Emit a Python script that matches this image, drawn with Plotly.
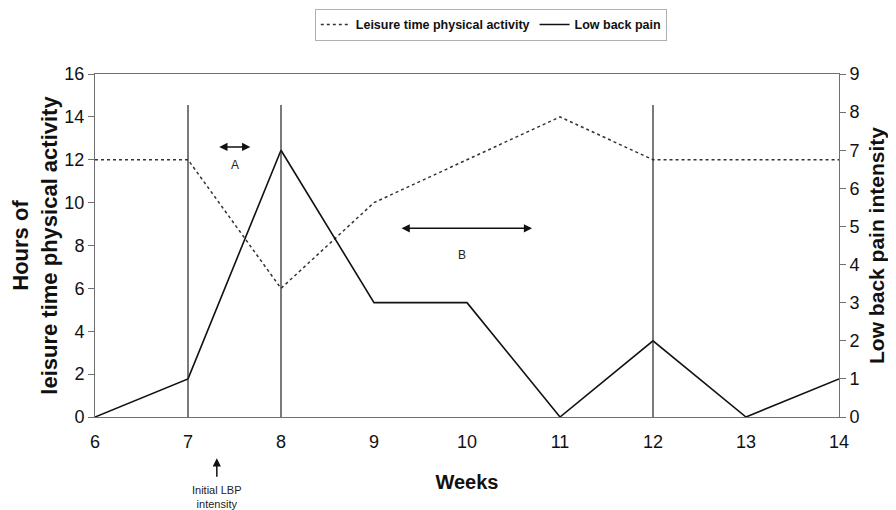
import plotly.graph_objects as go

weeks = [6, 7, 8, 9, 10, 11, 12, 13, 14]
leisure_hours = [12, 12, 6, 10, 12, 14, 12, 12, 12]
lbp_intensity = [0, 1, 7, 3, 3, 0, 2, 0, 1]
event_weeks = [7, 8, 12]
left_ticks = [0, 2, 4, 6, 8, 10, 12, 14, 16]
right_ticks = [0, 1, 2, 3, 4, 5, 6, 7, 8, 9]

FONT = "Arial, Liberation Sans, sans-serif"
AX = "#707070"

fig = go.Figure()
fig.add_trace(go.Scatter(
    x=weeks, y=leisure_hours, mode="lines", name="<b>Leisure time physical activity</b>",
    line=dict(color="#333333", width=1.5, dash="dot"), yaxis="y"))
fig.add_trace(go.Scatter(
    x=weeks, y=lbp_intensity, mode="lines", name="<b>Low back pain</b>",
    line=dict(color="#111111", width=1.6), yaxis="y2"))

for w in event_weeks:
    fig.add_shape(type="line", xref="x", yref="y", x0=w, x1=w, y0=0, y1=14.55,
                  line=dict(color="#222222", width=1.2))

# A double arrow
fig.add_annotation(x=7.67, y=12.6, ax=7.32, ay=12.6, xref="x", yref="y", axref="x", ayref="y",
                   text="", showarrow=True, arrowhead=2, arrowside="end+start",
                   arrowsize=1.1, arrowwidth=1.5, arrowcolor="#111111")
fig.add_annotation(x=7.5, y=11.75, xref="x", yref="y", text="A", showarrow=False,
                   font=dict(family=FONT, size=12, color="#222222"))
# B double arrow
fig.add_annotation(x=10.7, y=8.8, ax=9.28, ay=8.8, xref="x", yref="y", axref="x", ayref="y",
                   text="", showarrow=True, arrowhead=2, arrowside="end+start",
                   arrowsize=1.1, arrowwidth=1.5, arrowcolor="#111111")
fig.add_annotation(x=9.95, y=7.55, xref="x", yref="y", text="B", showarrow=False,
                   font=dict(family=FONT, size=12, color="#222222"))
# Initial LBP intensity (below the axis, paper y)
fig.add_annotation(x=7.31, y=-0.12, ax=0, ay=20, xref="x", yref="paper",
                   text="", showarrow=True, arrowhead=2, arrowsize=1.1, arrowwidth=1.5,
                   arrowcolor="#111111")
fig.add_annotation(x=7.31, y=-0.19, xref="x", yref="paper", yanchor="top",
                   text="Initial LBP<br>intensity", showarrow=False,
                   font=dict(family=FONT, size=11, color="#222222"))

fig.update_layout(
    width=896, height=510,
    margin=dict(l=87, r=65, t=66, b=101, autoexpand=False),
    paper_bgcolor="white", plot_bgcolor="white",
    font=dict(family=FONT, color="#111111"),
    showlegend=True,
    legend=dict(orientation="h", x=0.532, xanchor="center", y=1.19, yanchor="top",
                bordercolor="#b0b0b0", borderwidth=1, bgcolor="white",
                font=dict(family=FONT, size=12.5, color="#111111"),
                itemwidth=30, tracegroupgap=0),
    xaxis=dict(range=[6, 14], tickvals=weeks, ticks="", showgrid=False, zeroline=False,
               showline=True, linecolor=AX, linewidth=1, mirror=True, automargin=False,
               ticklabelstandoff=8,
               tickfont=dict(family=FONT, size=18, color="#111111"),
               title=dict(text="<b>Weeks</b>", font=dict(family=FONT, size=20, color="#111111"),
                          standoff=24)),
    yaxis=dict(range=[0, 16], tickvals=left_ticks, ticks="outside", ticklen=6, tickcolor=AX,
               showgrid=False, zeroline=False, showline=True, linecolor=AX, linewidth=1,
               automargin=False,
               tickfont=dict(family=FONT, size=18, color="#111111"),
               title=dict(text="<b>Hours of<br>leisure time physical activity</b>",
                          font=dict(family=FONT, size=22, color="#111111"), standoff=4)),
    yaxis2=dict(range=[0, 9], tickvals=right_ticks, overlaying="y", side="right",
                ticks="outside", ticklen=6, tickcolor=AX, showgrid=False, zeroline=False,
                showline=True, linecolor=AX, linewidth=1, automargin=False,
                tickfont=dict(family=FONT, size=18, color="#111111"),
                title=dict(text="<b>Low back pain intensity</b>",
                           font=dict(family=FONT, size=21, color="#111111"), standoff=10)),
)

fig.write_html("out.html")
